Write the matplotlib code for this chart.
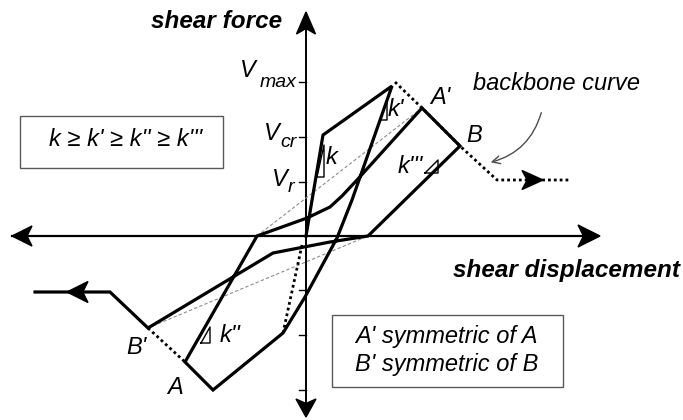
import numpy as np
import matplotlib
matplotlib.use("Agg")
import matplotlib.pyplot as plt
from matplotlib.patches import Polygon, Rectangle

plt.rcParams['font.family'] = ['Liberation Sans', 'DejaVu Sans']

# hysteresis path (shear displacement, shear force), schematic units
loop_disp = [0, 17, 86, 46, 31, -1, -23, -93, -121, -49, 1, 24, 36, 51, 116, 154,
             62, 24, -33, -158, -196, -271]
loop_force = [0, 101, 150, 36, -2, -61, -97, -154, -126, 0, 18, 29, 40, 56, 128, 90,
              0, -6, -17, -92, -56, -56]

# backbone curve (dotted parts)
bb_pos_disp = [89, 116, 154, 191, 264]
bb_pos_force = [154, 128, 90, 56, 56]
bb_neg_disp = [-158, -121]
bb_neg_force = [-92, -126]
bb_init_disp = [-4, -23]
bb_init_force = [-9, -97]

# secant lines (thin dashed)
sec1_disp = [-49, 116]
sec1_force = [0, 128]
sec2_disp = [-158, 62]
sec2_force = [-92, 0]

# force levels on the vertical axis
v_levels = [54, 99, 154]

# slope triangles: (x1, y1, x2, y2) of the hypotenuse
slope_tris = [(11, 59, 18, 91), (74, 116, 81, 136), (-105, -107, -96, -91),
              (119, 63, 132, 76)]
slope_labels = ["k", "k'", "k''", "k'''"]
slope_label_pos = [(26, 79), (90, 127), (-76, -99), (104, 69)]


def arrow_head(ax, tip, direction, length, width, notch=0.25):
    d = np.array(direction, float)
    d /= np.hypot(*d)
    p = np.array([-d[1], d[0]])
    tip = np.array(tip, float)
    back = tip - d * length
    pts = [tip, back + p * width / 2, tip - d * length * (1 - notch), back - p * width / 2]
    ax.add_patch(Polygon(pts, closed=True, color='k', zorder=5))


fig = plt.figure(figsize=(6.83, 4.2), dpi=100)
ax = fig.add_axes([0, 0, 1, 1])
ax.set_xlim(-306, 377)
ax.set_ylim(-184, 236)
ax.axis('off')

# axes
ax.plot([-294, 280], [0, 0], color='k', lw=1.6, zorder=2)
ax.plot([0, 0], [-168, 210], color='k', lw=1.4, zorder=2)
arrow_head(ax, (294, 0), (1, 0), 22, 22)
arrow_head(ax, (-294, 0), (-1, 0), 20, 20)
arrow_head(ax, (0, 224), (0, 1), 22, 19)
arrow_head(ax, (0, -181), (0, -1), 18, 20)

for v in v_levels:
    for s in (1, -1):
        ax.plot([-7, 0], [s * v, s * v], color='k', lw=1.0)

# secants
ax.plot(sec1_disp, sec1_force, color='0.55', lw=0.8, ls=(0, (3, 2)))
ax.plot(sec2_disp, sec2_force, color='0.55', lw=0.8, ls=(0, (3, 2)))

# backbone
dot = dict(color='k', lw=2.0, ls=(0, (1, 1.1)))
ax.plot(bb_pos_disp, bb_pos_force, **dot)
ax.plot(bb_neg_disp, bb_neg_force, **dot)
ax.plot(bb_init_disp, bb_init_force, **dot)
arrow_head(ax, (237, 56), (1, 0), 21, 19)

# hysteresis loop
ax.plot(loop_disp, loop_force, color='k', lw=2.3, solid_joinstyle='miter', zorder=3)
arrow_head(ax, (-239, -56), (-1, 0), 21, 21)

# slope triangles
for (x1, y1, x2, y2), lab, (lx, ly) in zip(slope_tris, slope_labels, slope_label_pos):
    ax.plot([x1, x2, x2, x1], [y1, y1, y2, y1], color='k', lw=1.0)
    ax.text(lx, ly, lab, fontsize=17, style='italic', ha='center', va='center')

# force level labels
tfont = dict(fontsize=17, style='italic')
sfont = dict(fontsize=14, style='italic')
ax.text(-66, 159, "V", ha='left', va='baseline', **tfont)
ax.text(-9, 149, "max", ha='right', va='baseline', **sfont)
ax.text(-42, 96, "V", ha='left', va='baseline', **tfont)
ax.text(-9, 89, "cr", ha='right', va='baseline', **sfont)
ax.text(-34, 50, "V", ha='left', va='baseline', **tfont)
ax.text(-12, 44, "r", ha='right', va='baseline', **sfont)

# axis titles
ax.text(-24, 214, "shear force", fontsize=17.5, style='italic', weight='bold',
        ha='right', va='center')
ax.text(374, -34, "shear displacement", fontsize=17.5, style='italic', weight='bold',
        ha='right', va='center')

# point labels
ax.text(134, 138, "A'", ha='center', va='center', **tfont)
ax.text(168, 100, "B", ha='center', va='center', **tfont)
ax.text(-170, -112, "B'", ha='center', va='center', **tfont)
ax.text(-131, -152, "A", ha='center', va='center', **tfont)

# backbone annotation
ax.text(167, 153, "backbone curve", ha='left', va='center', **tfont)
ax.annotate("", xy=(182, 73), xytext=(236, 126),
            arrowprops=dict(arrowstyle='->', connectionstyle='arc3,rad=-0.3',
                            color='0.3', lw=1.0, mutation_scale=14))

# boxes
ax.add_patch(Rectangle((-286, 68), 203, 52, fill=False, ec='0.35', lw=1.0))
ax.text(-180, 96, "k \u2265 k' \u2265 k'' \u2265 k'''", ha='center', va='center', **tfont)
ax.add_patch(Rectangle((26, -151), 231, 72, fill=False, ec='0.35', lw=1.0))
ax.text(49, -101, "A' symmetric of A", ha='left', va='center', **tfont)
ax.text(49, -129, "B' symmetric of B", ha='left', va='center', **tfont)

fig.savefig("out.png", dpi=100)
